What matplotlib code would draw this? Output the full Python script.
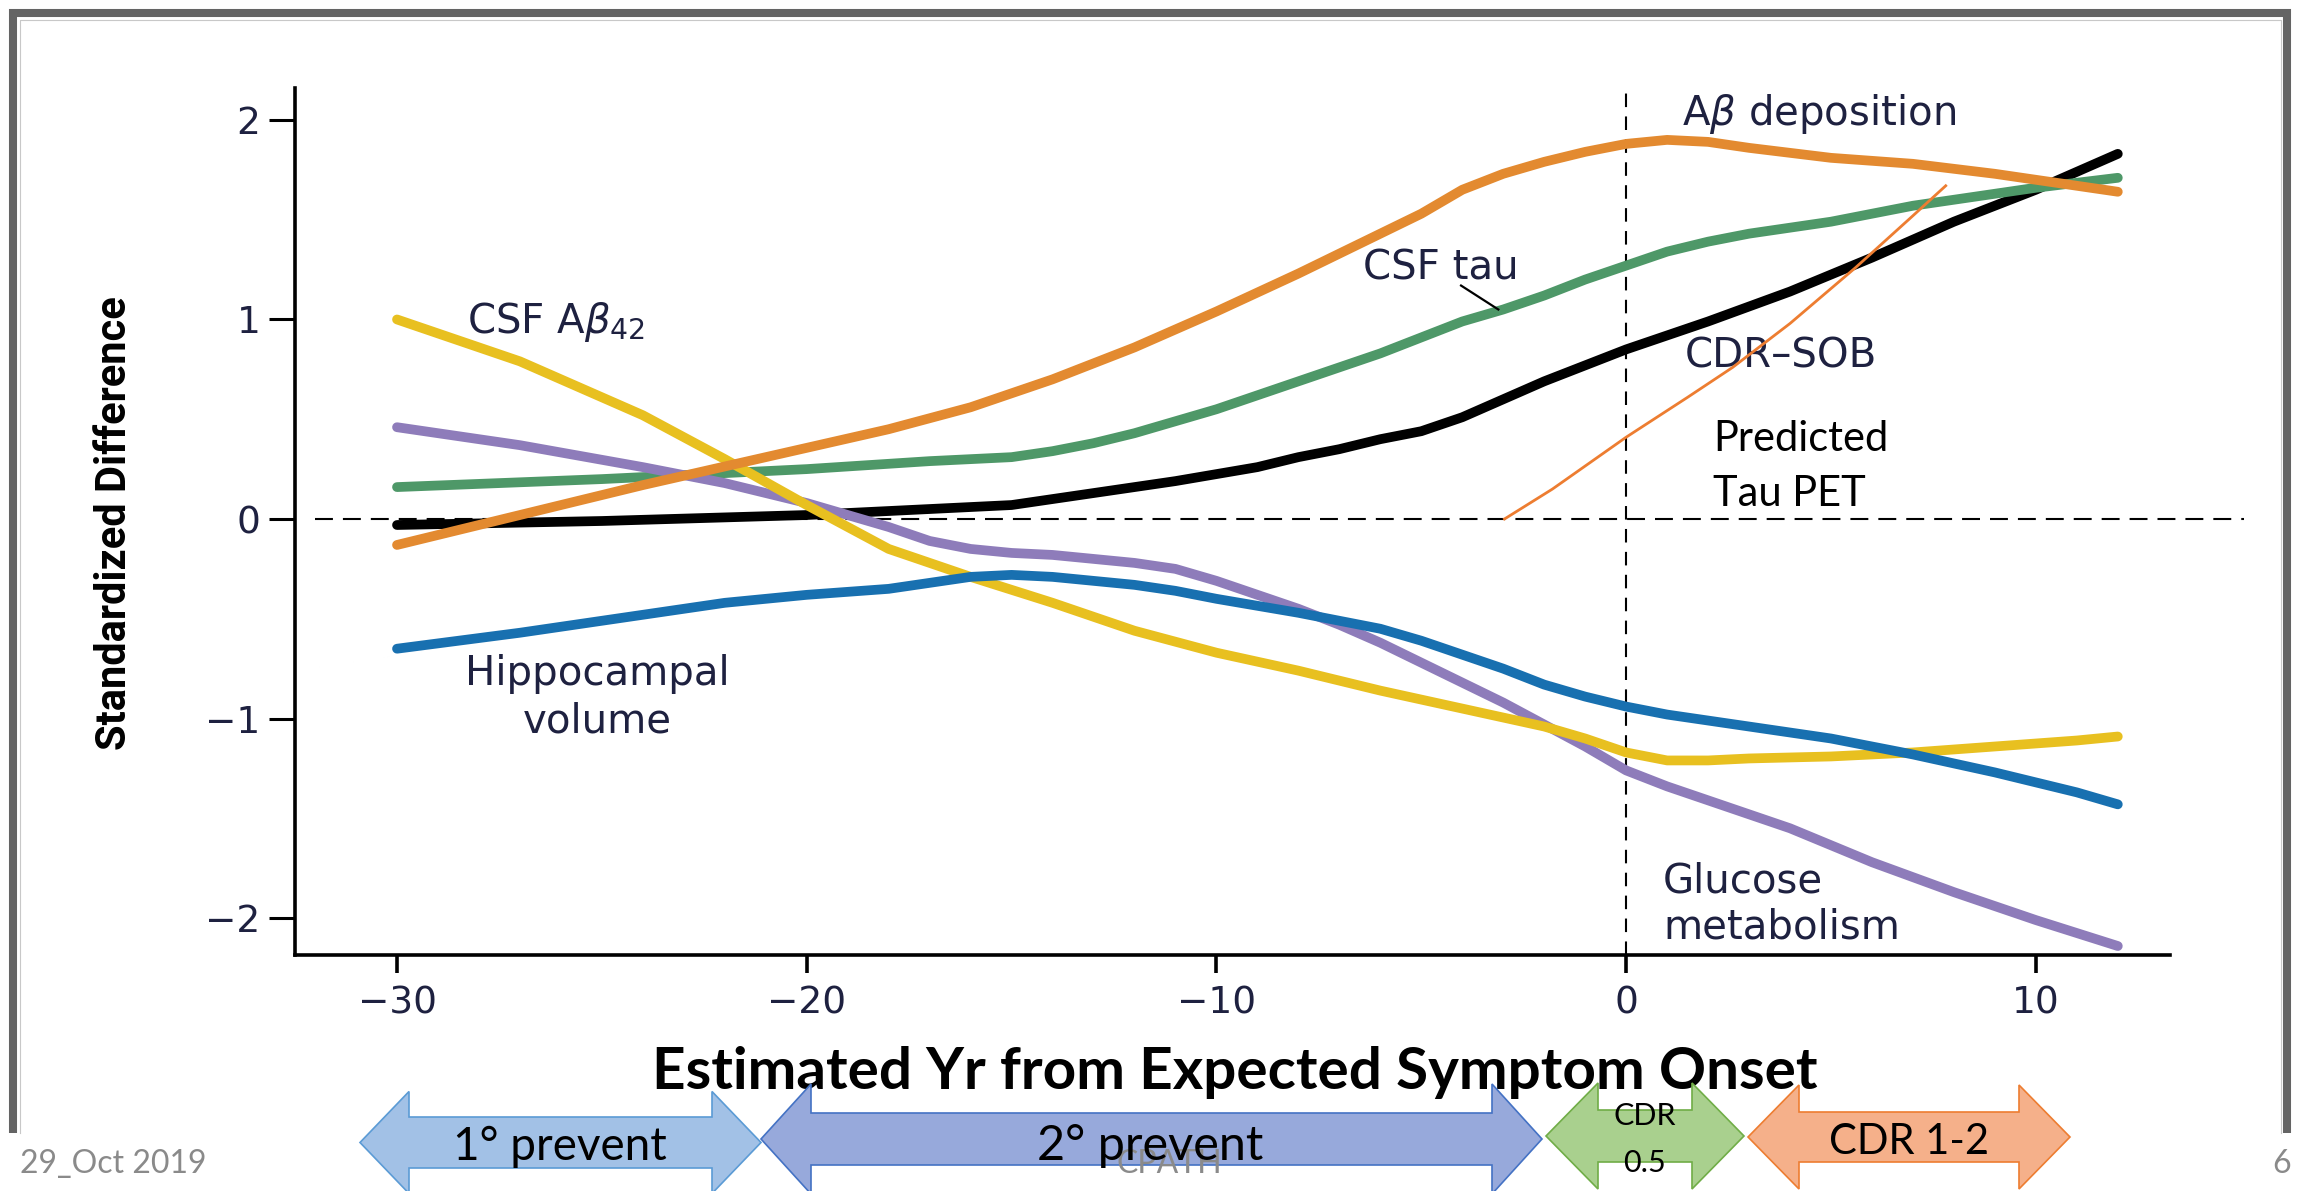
import numpy as np
import matplotlib
matplotlib.use("Agg")
import matplotlib.pyplot as plt
from matplotlib.patches import Polygon

#%% data (years from expected onset, standardized difference)

ab_x = [-30, -27, -24, -21, -18, -16, -14, -12, -10, -8, -6, -5, -4, -3, -2, -1, 0, 1, 2, 3, 5, 7, 9, 10, 12]
ab_y = [-0.13, 0.02, 0.17, 0.31, 0.45, 0.56, 0.70, 0.86, 1.04, 1.23, 1.43, 1.53, 1.65, 1.73, 1.79, 1.84, 1.88, 1.90, 1.89, 1.86, 1.81, 1.78, 1.73, 1.70, 1.64]

tau_x = [-30, -25, -20, -17, -15, -14, -13, -12, -11, -10, -9, -8, -7, -6, -5, -4, -3, -2, -1, 0, 1, 2, 3, 5, 7, 9, 10, 12]
tau_y = [0.16, 0.20, 0.25, 0.29, 0.31, 0.34, 0.38, 0.43, 0.49, 0.55, 0.62, 0.69, 0.76, 0.83, 0.91, 0.99, 1.05, 1.12, 1.20, 1.27, 1.34, 1.39, 1.43, 1.49, 1.57, 1.63, 1.66, 1.71]

cdr_x = [-30, -25, -20, -17, -15, -13, -11, -9, -8, -7, -6, -5, -4, -3, -2, -1, 0, 2, 4, 6, 8, 10, 12]
cdr_y = [-0.03, -0.01, 0.02, 0.05, 0.07, 0.13, 0.19, 0.26, 0.31, 0.35, 0.40, 0.44, 0.51, 0.60, 0.69, 0.77, 0.85, 0.99, 1.14, 1.31, 1.49, 1.65, 1.83]

csfab_x = [-30, -27, -24, -22, -20, -18, -16, -14, -12, -10, -8, -6, -4, -2, -1, 0, 1, 2, 3, 5, 7, 9, 11, 12]
csfab_y = [1.00, 0.79, 0.52, 0.30, 0.07, -0.15, -0.29, -0.42, -0.56, -0.67, -0.76, -0.86, -0.95, -1.04, -1.10, -1.17, -1.21, -1.21, -1.20, -1.19, -1.17, -1.14, -1.11, -1.09]

glu_x = [-30, -27, -24, -22, -20, -19, -18, -17, -16, -15, -14, -13, -12, -11, -10, -9, -8, -7, -6, -5, -4, -3, -2, -1, 0, 1, 2, 4, 6, 8, 10, 12]
glu_y = [0.46, 0.37, 0.26, 0.18, 0.08, 0.02, -0.04, -0.11, -0.15, -0.17, -0.18, -0.20, -0.22, -0.25, -0.31, -0.38, -0.45, -0.53, -0.62, -0.72, -0.82, -0.92, -1.03, -1.14, -1.26, -1.34, -1.41, -1.55, -1.72, -1.87, -2.01, -2.14]

hip_x = [-30, -27, -24, -22, -20, -18, -17, -16, -15, -14, -12, -11, -10, -8, -6, -5, -4, -3, -2, -1, 0, 1, 3, 5, 7, 9, 11, 12]
hip_y = [-0.65, -0.57, -0.48, -0.42, -0.38, -0.35, -0.32, -0.29, -0.28, -0.29, -0.33, -0.36, -0.40, -0.47, -0.55, -0.61, -0.68, -0.75, -0.83, -0.89, -0.94, -0.98, -1.04, -1.10, -1.18, -1.27, -1.37, -1.43]

taupet_x = [-2.97, -1.8, 0, 1.5, 2.6, 4, 5.6, 7, 7.8]
taupet_y = [0, 0.15, 0.41, 0.61, 0.76, 0.98, 1.26, 1.52, 1.67]

x_ticks = [-30, -20, -10, 0, 10]
y_ticks = [-2, -1, 0, 1, 2]

stages = ["1° prevent", "2° prevent", "CDR\n0.5", "CDR 1-2"]

#%% figure

W, H = 2300, 1191
plt.rcParams['mathtext.fontset'] = 'dejavusans'
fig = plt.figure(figsize=(W / 100, H / 100), dpi=100)
fig.patch.set_facecolor('white')

ax = fig.add_axes([295 / W, 1 - 955 / H, (2244 - 295) / W, (955 - 88) / H])
ax.set_xlim(-32.49, 15.08)
ax.set_ylim(-2.185, 2.16)

lab = '#1E2140'
lw = 7
ax.plot(cdr_x, cdr_y, color='black', lw=lw, solid_capstyle='round', zorder=3)
ax.plot(tau_x, tau_y, color='#4E9868', lw=lw, solid_capstyle='round', zorder=3)
ax.plot(glu_x, glu_y, color='#8E7CBA', lw=lw, solid_capstyle='round', zorder=3)
ax.plot(csfab_x, csfab_y, color='#E8C020', lw=lw, solid_capstyle='round', zorder=3)
ax.plot(ab_x, ab_y, color='#E38A30', lw=lw, solid_capstyle='round', zorder=3)
ax.plot(hip_x, hip_y, color='#1870B0', lw=lw, solid_capstyle='round', zorder=3)
ax.plot(taupet_x, taupet_y, color='#ED7D31', lw=2, zorder=4)

# reference lines
ax.plot([-32.0, 15.08], [0, 0], color='black', lw=1.5, ls=(0, (8.6, 4.8)), clip_on=False, zorder=2)
ax.plot([0, 0], [-2.185, 2.14], color='black', lw=1.5, ls=(0, (6.5, 4.5)), clip_on=False, zorder=2)

# spines & ticks
for s in ['top', 'right']:
    ax.spines[s].set_visible(False)
for s in ['left', 'bottom']:
    ax.spines[s].set_linewidth(2.6)
ax.spines['bottom'].set_bounds(-32.49, 13.27)
ax.set_xticks(x_ticks)
ax.set_yticks(y_ticks)
ax.tick_params(axis='y', length=19, width=2.2, pad=6, labelsize=27, labelcolor=lab)
ax.tick_params(axis='x', length=13, width=2.6, pad=9, labelsize=27, labelcolor=lab)

# curve labels
fs = 29
ax.text(1.37, 1.975, r'A$\beta$ deposition', fontsize=fs, color=lab)
ax.text(-28.29, 0.93, r'CSF A$\beta_{42}$', fontsize=fs, color=lab)
ax.text(-6.42, 1.20, 'CSF tau', fontsize=fs, color=lab)
ax.plot([-4.03, -3.12], [1.17, 1.05], color='black', lw=1.6, zorder=5)
ax.text(1.44, 0.757, 'CDR\u2013SOB', fontsize=fs, color=lab)
ax.text(-25.1, -0.83, 'Hippocampal', fontsize=fs, color=lab, ha='center')
ax.text(-25.1, -1.07, 'volume', fontsize=fs, color=lab, ha='center')
ax.text(0.9, -1.87, 'Glucose', fontsize=fs, color=lab)
ax.text(0.9, -2.10, 'metabolism', fontsize=fs, color=lab)
ax.text(2.12, 0.34, 'Predicted', fontsize=30, family=['Lato', 'DejaVu Sans'], color='black')
ax.text(2.12, 0.065, 'Tau PET', fontsize=30, family=['Lato', 'DejaVu Sans'], color='black')

#%% slide layer in pixel coordinates

ov = fig.add_axes([0, 0, 1, 1], zorder=5)
ov.set_xlim(0, W)
ov.set_ylim(H, 0)
ov.axis('off')

# slide frame
ov.plot([13, 13, 2287, 2287], [1133, 13, 13, 1133], color='#646464', lw=5.8,
        solid_joinstyle='miter', solid_capstyle='butt')
ov.plot([19.5, 19.5, 2280.5, 2280.5], [1133, 19.5, 19.5, 1133], color='#C8C8C8', lw=0.8)

ov.text(115, 523, 'Standardized Difference', rotation=90, ha='center', va='center',
        fontsize=30, fontweight='bold', family=['Roboto', 'DejaVu Sans'])
ov.text(1235, 1089, 'Estimated Yr from Expected Symptom Onset', ha='center', va='baseline',
        fontsize=42, fontweight='bold', family=['Lato', 'DejaVu Sans'], zorder=1)

def double_arrow(x0, x1, yc, body, head, hl, face, edge):
    pts = [(x0, yc), (x0 + hl, yc - head), (x0 + hl, yc - body), (x1 - hl, yc - body),
           (x1 - hl, yc - head), (x1, yc), (x1 - hl, yc + head), (x1 - hl, yc + body),
           (x0 + hl, yc + body), (x0 + hl, yc + head)]
    ov.add_patch(Polygon(pts, closed=True, facecolor=face, edgecolor=edge, lw=1.2, zorder=2))

double_arrow(360, 761, 1142.5, 25.5, 51, 49, '#A2C1E6', '#5B9BD5')
double_arrow(761, 1542, 1139, 26, 55, 50, '#97A9DB', '#4472C4')
double_arrow(1546, 1744, 1136, 26, 53, 52, '#A9D08E', '#70AD47')
double_arrow(1748, 2070, 1137, 25, 52, 51, '#F5B08A', '#ED7D31')

slide_font = ['Lato', 'DejaVu Sans']
gray = '#8A8A8A'
ov.text(1117, 1173, 'CPATH', fontsize=23, color=gray, family=slide_font, zorder=3)
ov.text(20, 1173, '29_Oct 2019', fontsize=23, color=gray, family=slide_font, zorder=3)
ov.text(2282, 1173, '6', fontsize=23, color=gray, family=slide_font, ha='center', zorder=3)

ov.text(560, 1160, stages[0], fontsize=33, family=slide_font, ha='center', zorder=4)
ov.text(1150, 1160, stages[1], fontsize=35, family=slide_font, ha='center', zorder=4)
cdr_top, cdr_bot = stages[2].split('\n')
ov.text(1645, 1125, cdr_top, fontsize=22, family=slide_font, ha='center', zorder=4)
ov.text(1645, 1172, cdr_bot, fontsize=22, family=slide_font, ha='center', zorder=4)
ov.text(1909, 1154, stages[3], fontsize=30, family=slide_font, ha='center', zorder=4)

fig.savefig('out.png', dpi=100, facecolor='white')
